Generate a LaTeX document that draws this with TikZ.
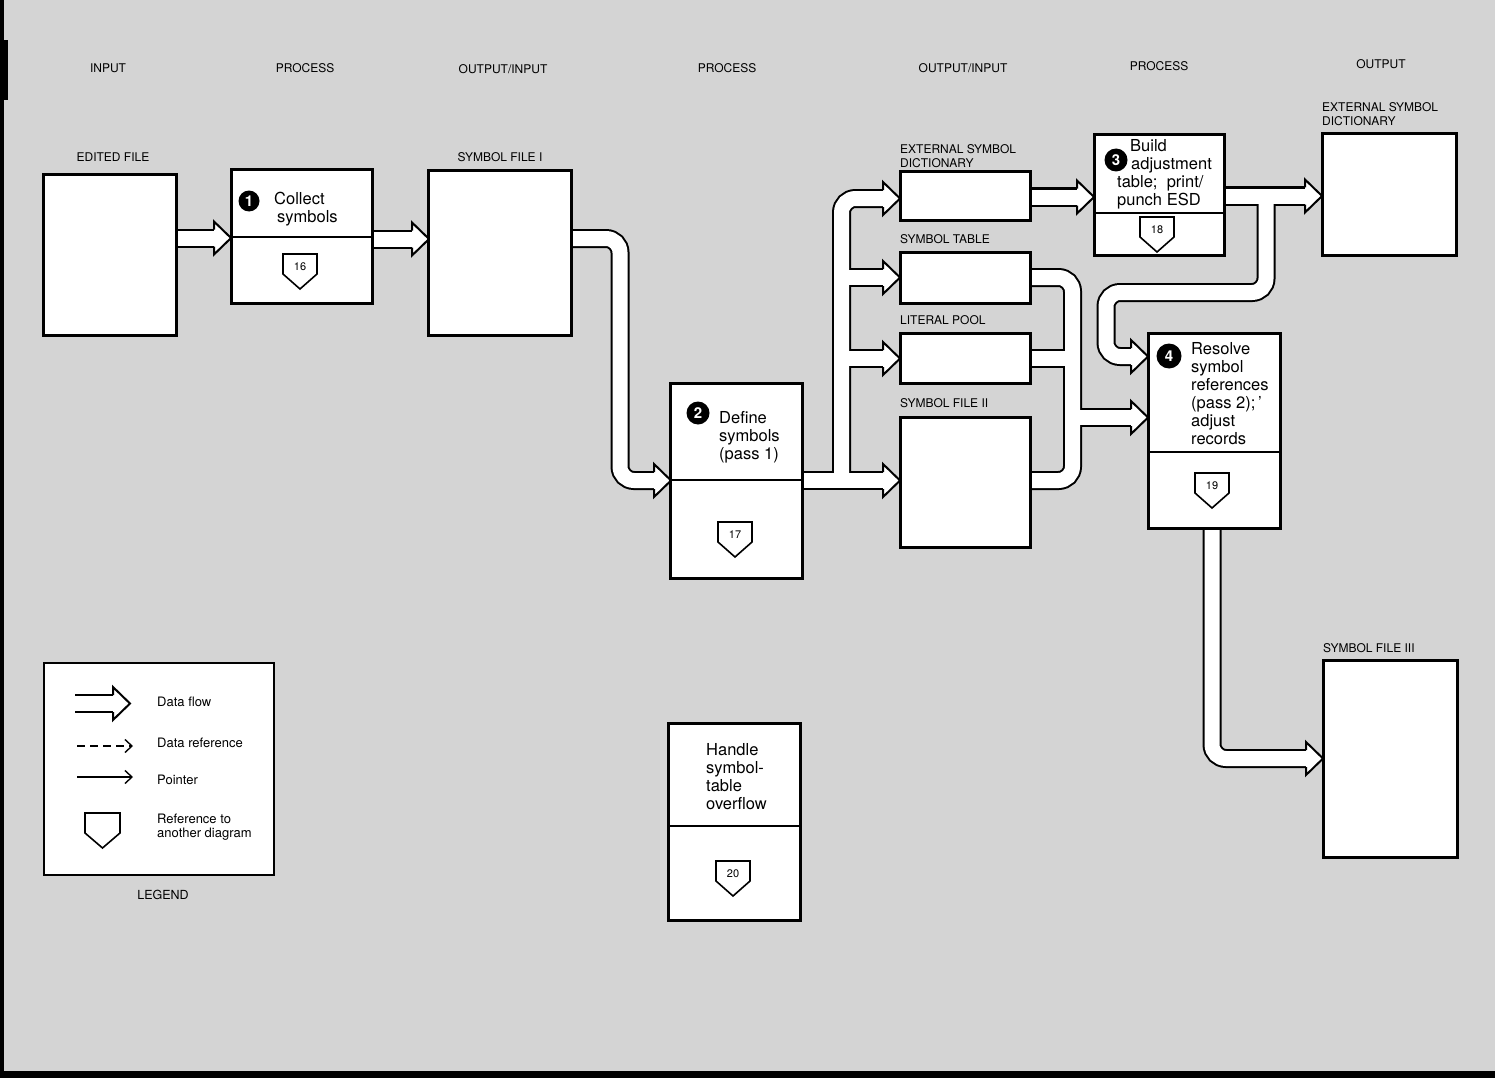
\documentclass[tikz,border=0pt]{standalone}
\usepackage{fontspec}
\setmainfont{TeX Gyre Heros}
\usetikzlibrary{arrows.meta}
\definecolor{bg}{RGB}{212,212,212}
\newcommand\allflows[1]{%
  \draw[#1] (176,238) -- (214,238);
  \draw[#1] (372,239) -- (412,239);
  \draw[#1] (571,238.5) -- (620,238.5) -- (620,480.5) -- (654,480.5);
  \draw[#1] (802,480.5) -- (883,480.5);
  \draw[#1] (j2) -- (841.5,198.5) -- (883,198.5);
  \draw[#1] (841.5,277.5) -- (883,277.5);
  \draw[#1] (841.5,358.5) -- (883,358.5);
  \draw[#1] (1030,197) -- (1077,197);
  \draw[#1] (1030,277.5) -- (1072.5,277.5) -- (1072.5,480.5) -- (1030,480.5);
  \draw[#1] (1030,358.5) -- (1072.5,358.5);
  \draw[#1] (1072.5,417.5) -- (1131,417.5);
  \draw[#1] (1224,196) -- (1305,196);
  \draw[#1] (j3) -- (1266,292.5) -- (1106,292.5) -- (1106,356.5) -- (1131,356.5);
  \draw[#1] (1212,528) -- (1212,758.5) -- (1306,758.5);
  \draw[#1] (75,703.5) -- (113,703.5);
}
\begin{document}
\begin{tikzpicture}[x=1pt,y=-1pt,
  flowblack/.style={line width=19pt, black, rounded corners=14pt},
  flowwhite/.style={line width=15pt, white, rounded corners=14pt},
  fhead/.pic={\draw[fill=white, line width=2pt, line join=miter] (-17,-8.5) -- (-17,-16.5) -- (0,0) -- (-17,16.5) -- (-17,8.5);},
  refmark/.pic={\draw[line width=1.6pt, fill=white, line join=miter] (-17,0) -- (17,0) -- (17,20) -- (0,35) -- (-17,20) -- cycle;
     \node[font=\fontsize{11}{11}\selectfont] at (0,13) {#1};},
  fbox/.style={draw=black, line width=3pt, fill=white, inner sep=0pt},
  divider/.style={line width=1.5pt},
  lbl/.style={font=\fontsize{12}{13.5}\selectfont, align=left, inner sep=0pt},
  boxtxt/.style={font=\fontsize{16.5}{18}\selectfont, align=left, inner sep=0pt},
  numcirc/.style={circle, fill=black, text=white, inner sep=0pt, minimum size=23pt, font=\bfseries\fontsize{15}{15}\selectfont},
  legtxt/.style={font=\fontsize{13}{14.5}\selectfont, align=left, inner sep=0pt, anchor=west}]
\useasboundingbox (0,0) rectangle (1495,1078);
\fill[bg] (0,0) rectangle (1495,1078);
\fill[black] (0,0) rectangle (4,1078);
\fill[black] (0,40) rectangle (8,100);
\fill[black] (0,1071) rectangle (1495,1078);

% headers
\node[lbl] (h1) at (108,68) {INPUT};
\node[lbl] (h2) at (305,68) {PROCESS};
\node[lbl] (h3) at (503,69) {OUTPUT/INPUT};
\node[lbl] (h4) at (727,68) {PROCESS};
\node[lbl] (h5) at (963,68) {OUTPUT/INPUT};
\node[lbl] (h6) at (1159,66) {PROCESS};
\node[lbl] (h7) at (1381,64) {OUTPUT};

% legend box (under its data-flow sample)
\node[draw=black, line width=2pt, fill=white, minimum width=230pt, minimum height=212pt] (leg) at (159,769) {};

\coordinate (j2) at (841.5,480.5);
\coordinate (j3) at (1266,196);

% flows
\allflows{flowblack}
\allflows{flowwhite}
\pic at (231,238) {fhead};
\pic at (429,239) {fhead};
\pic at (671,480.5) {fhead};
\pic at (900,480.5) {fhead};
\pic at (900,198.5) {fhead};
\pic at (900,277.5) {fhead};
\pic at (900,358.5) {fhead};
\pic at (1094,197) {fhead};
\pic at (1148,417.5) {fhead};
\pic at (1322,196) {fhead};
\pic at (1148,356.5) {fhead};
\pic at (1323,758.5) {fhead};
\pic at (130,703.5) {fhead};

% boxes
\node[fbox, minimum width=133pt, minimum height=160pt] (edited) at (109.5,255) {};
\node[fbox, minimum width=141pt, minimum height=133pt] (b1) at (301.5,236.5) {};
\node[fbox, minimum width=143pt, minimum height=164pt] (sf1) at (499.5,253) {};
\node[fbox, minimum width=132pt, minimum height=195pt] (b2) at (736,480.5) {};
\node[fbox, minimum width=130pt, minimum height=48pt] (esd) at (965,196) {};
\node[fbox, minimum width=130pt, minimum height=51pt] (st) at (965,277.5) {};
\node[fbox, minimum width=130pt, minimum height=50pt] (lp) at (965,358) {};
\node[fbox, minimum width=130pt, minimum height=130pt] (sf2) at (965,482) {};
\node[fbox, minimum width=130pt, minimum height=120pt] (b3) at (1159,195) {};
\node[fbox, minimum width=134pt, minimum height=121pt] (esdout) at (1389,194.5) {};
\node[fbox, minimum width=132pt, minimum height=195pt] (b4) at (1214,430.5) {};
\node[fbox, minimum width=134pt, minimum height=197pt] (sf3) at (1390,758.5) {};
\node[fbox, minimum width=132pt, minimum height=197pt] (hb) at (734,821.5) {};

% dividers
\draw[divider] (231,237) -- (372,237);
\draw[divider] (670,480) -- (802,480);
\draw[divider] (1094,213) -- (1224,213);
\draw[divider] (1148,452) -- (1280,452);
\draw[divider] (668,826) -- (800,826);

% box labels
\node[lbl] (ledited) at (113,157) {EDITED FILE};
\node[lbl] (lsf1) at (500,157) {SYMBOL FILE I};
\node[lbl, anchor=west] (lesd) at (900,156) {EXTERNAL SYMBOL\\DICTIONARY};
\node[lbl, anchor=west] (lst) at (900,239.5) {SYMBOL TABLE};
\node[lbl, anchor=west] (llp) at (900,320.5) {LITERAL POOL};
\node[lbl, anchor=west] (lsf2) at (900,403.5) {SYMBOL FILE II};
\node[lbl, anchor=west] (lesdout) at (1322,114) {EXTERNAL SYMBOL\\DICTIONARY};
\node[lbl, anchor=west] (lsf3) at (1323,648.5) {SYMBOL FILE III};

% process texts
\node[numcirc, minimum size=21pt] (n1) at (249,201) {1};
\node[boxtxt, anchor=west] (t1) at (274,209) {Collect\\\hspace*{3pt}symbols};
\node[numcirc] (n2) at (698,413) {2};
\node[boxtxt, anchor=west] (t2) at (719,437) {Define\\symbols\\(pass 1)};
\node[numcirc] (n3) at (1116,160) {3};
\node[boxtxt, anchor=west] (t3) at (1117,174) {\hspace*{13pt}Build\\\hspace*{14pt}adjustment\\table;\ \ print/\\punch ESD};
\node[numcirc, minimum size=25pt] (n4) at (1169,356) {4};
\node[boxtxt, anchor=west] (t4) at (1191,393.5) {Resolve\\symbol\\references\\(pass 2);\,'\\adjust\\records};
\node[boxtxt, anchor=west] (t5) at (706,777) {Handle\\symbol-\\table\\overflow};

% reference marks
\pic at (300,254) {refmark=16};
\pic at (735,522) {refmark=17};
\pic at (1157,217) {refmark=18};
\pic at (1212,473) {refmark=19};
\pic at (733,861) {refmark=20};

% legend
\coordinate (da) at (77,746);
\coordinate (db) at (133,746);
\coordinate (pa) at (77,777);
\coordinate (pb) at (133,777);
\draw[line width=1.4pt, dash pattern=on 8pt off 5pt, -{Straight Barb[length=7pt,width=13pt,line width=1.4pt]}] (da) -- (db);
\draw[line width=1.4pt, -{Straight Barb[length=7pt,width=13pt,line width=1.4pt]}] (pa) -- (pb);
\draw[line width=1.6pt, fill=white, line join=miter] (85,813) -- (120,813) -- (120,833) -- (102.5,848) -- (85,833) -- cycle;
\node[legtxt] (lg1) at (157,702) {Data flow};
\node[legtxt] (lg2) at (157,743) {Data reference};
\node[legtxt] (lg3) at (157,780) {Pointer};
\node[legtxt] (lg4) at (157,827) {Reference to\\another diagram};
\node[font=\fontsize{12.5}{14}\selectfont] (legend) at (163,895) {LEGEND};
\end{tikzpicture}
\end{document}
